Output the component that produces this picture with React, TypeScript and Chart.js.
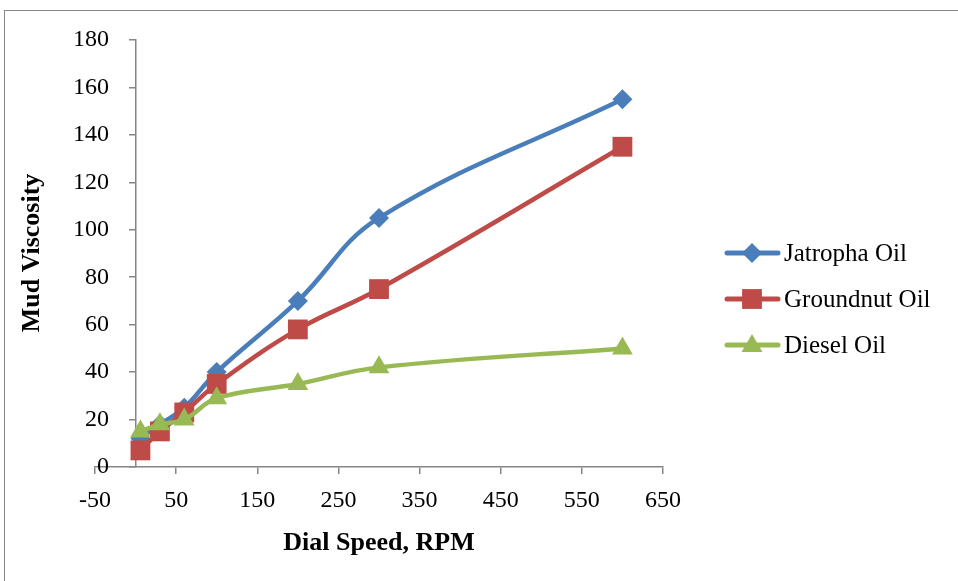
import React, { useEffect, useRef } from 'react';
import { Chart, registerables } from 'chart.js';

Chart.register(...registerables);

const rpm = [6, 30, 60, 100, 200, 300, 600];
const jatropha = [12, 18, 25, 40, 70, 105, 155];
const groundnut = [7, 15, 23, 35, 58, 75, 135];
const diesel = [15, 18, 20, 29, 35, 42, 50];
const seriesNames = ['Jatropha Oil', 'Groundnut Oil', 'Diesel Oil'];
const seriesColors = ['#4A7EBB', '#BE4B48', '#98B954'];
const seriesShapes = ['rectRot', 'rect', 'triangle'];
const seriesRadius = [10, 14, 12];
const xTicks = [-50, 50, 150, 250, 350, 450, 550, 650];
const yTicks = [0, 20, 40, 60, 80, 100, 120, 140, 160, 180];
const xTitle = 'Dial Speed, RPM';
const yTitle = 'Mud Viscosity';

const FONT = '"Liberation Serif", "Times New Roman", serif';
const AXIS = '#868686';

function drawShape(ctx: CanvasRenderingContext2D, shape: string, x: number, y: number, r: number) {
  ctx.beginPath();
  if (shape === 'rectRot') {
    ctx.moveTo(x - r, y);
    ctx.lineTo(x, y - r);
    ctx.lineTo(x + r, y);
    ctx.lineTo(x, y + r);
  } else if (shape === 'rect') {
    const h = r * Math.SQRT1_2;
    ctx.rect(x - h, y - h, 2 * h, 2 * h);
  } else {
    ctx.moveTo(x, y - r);
    ctx.lineTo(x + 0.866 * r, y + 0.5 * r);
    ctx.lineTo(x - 0.866 * r, y + 0.5 * r);
  }
  ctx.closePath();
  ctx.fill();
}

const decorPlugin = {
  id: 'decor',
  beforeDraw(chart: any) {
    const ctx = chart.ctx as CanvasRenderingContext2D;
    ctx.save();
    ctx.fillStyle = '#ffffff';
    ctx.fillRect(0, 0, chart.width, chart.height);
    ctx.strokeStyle = AXIS;
    ctx.lineWidth = 1;
    ctx.strokeRect(4.5, 10.5, chart.width + 10, chart.height + 10);
    ctx.restore();
  },
  afterDraw(chart: any) {
    const ctx = chart.ctx as CanvasRenderingContext2D;
    ctx.save();
    // y axis title
    ctx.translate(32, 253);
    ctx.rotate(-Math.PI / 2);
    ctx.font = `bold 26px ${FONT}`;
    ctx.fillStyle = '#000';
    ctx.textAlign = 'center';
    ctx.textBaseline = 'middle';
    ctx.fillText(yTitle, 0, 0);
    ctx.restore();

    // legend
    ctx.save();
    const rows = [253, 299, 345];
    seriesNames.forEach((name, i) => {
      const y = rows[i];
      ctx.strokeStyle = seriesColors[i];
      ctx.lineWidth = 5;
      ctx.lineCap = 'round';
      ctx.beginPath();
      ctx.moveTo(727, y);
      ctx.lineTo(778, y);
      ctx.stroke();
      ctx.fillStyle = seriesColors[i];
      drawShape(ctx, seriesShapes[i], 752, i === 2 ? y + 1 : y, seriesRadius[i]);
      ctx.fillStyle = '#000';
      ctx.font = `25px ${FONT}`;
      ctx.textAlign = 'left';
      ctx.textBaseline = 'middle';
      ctx.fillText(name, 784, y + 1);
    });
    ctx.restore();
  },
};

export default function App() {
  const ref = useRef<HTMLCanvasElement | null>(null);

  useEffect(() => {
    document.body.style.margin = '0';
    const canvas = ref.current;
    if (!canvas) return;
    const series = [jatropha, groundnut, diesel];
    const chart = new Chart(canvas, {
      type: 'line',
      data: {
        datasets: series.map((vals, i) => ({
          label: seriesNames[i],
          data: rpm.map((x, j) => ({ x, y: vals[j] })),
          borderColor: seriesColors[i],
          backgroundColor: seriesColors[i],
          borderWidth: 4.5,
          pointStyle: seriesShapes[i] as any,
          pointRadius: seriesRadius[i],
          pointBorderWidth: 0,
          pointBackgroundColor: seriesColors[i],
          pointBorderColor: seriesColors[i],
          tension: 0.4,
          fill: false,
          order: series.length - 1 - i,
          yAxisID: 'y',
        })),
      },
      options: {
        responsive: false,
        animation: false,
        events: [],
        layout: { padding: { left: 95, right: 295, top: 40, bottom: 22 } },
        plugins: {
          legend: { display: false },
          tooltip: { enabled: false },
        },
        scales: {
          x: {
            type: 'linear',
            position: 'bottom',
            min: -50,
            max: 650,
            afterBuildTicks: (s: any) => {
              s.ticks = xTicks.map((v) => ({ value: v }));
            },
            afterFit: (s: any) => {
              s.height = 92;
            },
            ticks: {
              font: { family: FONT, size: 24 },
              color: '#000',
              padding: 12,
              maxRotation: 0,
              autoSkip: false,
            },
            grid: {
              drawOnChartArea: false,
              drawTicks: true,
              tickLength: 7,
              color: AXIS,
              lineWidth: 1.5,
            },
            border: { color: AXIS, width: 1.5 },
            title: {
              display: true,
              text: xTitle,
              color: '#000',
              font: { family: FONT, size: 26, weight: 'bold' },
              padding: { top: 0, bottom: 0 },
            },
          },
          y: {
            type: 'linear',
            position: { x: 0 } as any,
            min: 0,
            max: 180,
            afterBuildTicks: (s: any) => {
              s.ticks = yTicks.map((v) => ({ value: v }));
            },
            ticks: { display: false },
            grid: {
              drawOnChartArea: false,
              drawTicks: true,
              tickLength: 6,
              color: AXIS,
              lineWidth: 1.5,
            },
            border: { color: AXIS, width: 1.5 },
          },
          yLabels: {
            type: 'linear',
            position: 'left',
            min: 0,
            max: 180,
            afterBuildTicks: (s: any) => {
              s.ticks = yTicks.map((v) => ({ value: v }));
            },
            afterFit: (s: any) => {
              s.width = 0;
            },
            ticks: {
              font: { family: FONT, size: 24 },
              color: '#000',
              padding: -22,
              mirror: true,
              autoSkip: false,
              crossAlign: 'far',
            },
            grid: { display: false },
            border: { display: false },
          },
        },
      },
      plugins: [decorPlugin],
    });
    return () => chart.destroy();
  }, []);

  return (
    <div style={{ width: 958, height: 581 }}>
      <canvas ref={ref} width={958} height={581} style={{ display: 'block' }} />
    </div>
  );
}
